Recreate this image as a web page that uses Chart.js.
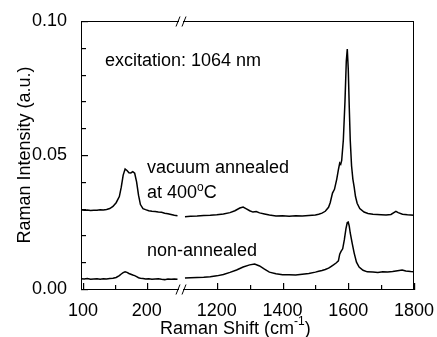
<!DOCTYPE html>
<html lang="en">
<head>
    <meta charset="UTF-8">
    <title>Raman spectra</title>
    <script src="https://cdn.jsdelivr.net/npm/chart.js"></script>
    <style>
        body {
            margin: 0;
            padding: 0;
            background: #fff;
        }
        canvas {
            display: block;
        }
    </style>
</head>
<body>
    <canvas id="ramanChart" width="437" height="337"></canvas>

    <script>
        // low shift window (left part of the broken axis)
        const lowShift = [97, 102, 107, 112, 117, 122, 127, 132, 137, 142, 147, 152, 157, 160, 163, 166, 169, 172, 175, 178,
            181, 184, 187, 190, 194, 198, 203, 208, 213, 218, 223, 228, 233, 238, 243, 248];
        const annealedLow = [0.0296, 0.0294, 0.0295, 0.0293, 0.0294, 0.0294, 0.0296, 0.0295, 0.0297, 0.0300, 0.0308, 0.0322,
            0.0345, 0.0380, 0.0425, 0.0448, 0.0442, 0.0434, 0.0433, 0.0438, 0.0432, 0.0400, 0.0350, 0.0315, 0.0300, 0.0296,
            0.0292, 0.0290, 0.0289, 0.0287, 0.0286, 0.0283, 0.0281, 0.0278, 0.0275, 0.0273];
        const plainLow = [0.0038, 0.0037, 0.0039, 0.0036, 0.0037, 0.0038, 0.0036, 0.0038, 0.0037, 0.0039, 0.0040, 0.0043,
            0.0050, 0.0056, 0.0061, 0.0064, 0.0062, 0.0058, 0.0055, 0.0052, 0.0050, 0.0046, 0.0042, 0.0040, 0.0039, 0.0037,
            0.0038, 0.0036, 0.0037, 0.0038, 0.0036, 0.0035, 0.0037, 0.0036, 0.0037, 0.0036];

        // high shift window (right part)
        const annealedHighShift = [1103, 1120, 1140, 1160, 1180, 1200, 1220, 1240, 1255, 1270, 1280, 1290, 1300, 1310, 1320,
            1330, 1345, 1360, 1380, 1400, 1420, 1440, 1460, 1480, 1500, 1510, 1520, 1530, 1540, 1545, 1552, 1558, 1565, 1570,
            1574, 1577, 1580, 1585, 1590, 1594, 1597, 1600, 1603, 1606, 1610, 1614, 1618, 1622, 1627, 1635, 1648, 1660, 1675,
            1688, 1700, 1715, 1730, 1740, 1745, 1752, 1765, 1780, 1790, 1800];
        const annealedHigh = [0.0270, 0.0271, 0.0272, 0.0274, 0.0275, 0.0277, 0.0280, 0.0285, 0.0292, 0.0302, 0.0306, 0.0299,
            0.0292, 0.0287, 0.0289, 0.0284, 0.0280, 0.0276, 0.0272, 0.0273, 0.0271, 0.0273, 0.0272, 0.0274, 0.0276, 0.0279,
            0.0283, 0.0290, 0.0305, 0.0322, 0.0358, 0.0372, 0.0410, 0.0445, 0.0470, 0.0465, 0.0480, 0.0556, 0.0700, 0.0850,
            0.0895, 0.0820, 0.0680, 0.0556, 0.0460, 0.0410, 0.0380, 0.0345, 0.0320, 0.0300, 0.0287, 0.0282, 0.0279, 0.0278,
            0.0277, 0.0276, 0.0278, 0.0286, 0.0290, 0.0285, 0.0279, 0.0277, 0.0276, 0.0275];
        const plainHighShift = [1103, 1120, 1140, 1160, 1180, 1200, 1220, 1240, 1260, 1280, 1300, 1315, 1330, 1345, 1360, 1380,
            1400, 1420, 1440, 1460, 1480, 1500, 1510, 1520, 1530, 1540, 1545, 1555, 1563, 1570, 1574, 1578, 1583, 1588, 1593,
            1597, 1600, 1603, 1606, 1612, 1618, 1625, 1633, 1645, 1658, 1675, 1690, 1705, 1720, 1735, 1750, 1764, 1775, 1790, 1800];
        const plainHigh = [0.0041, 0.0042, 0.0043, 0.0044, 0.0046, 0.0049, 0.0054, 0.0062, 0.0071, 0.0082, 0.0090, 0.0093,
            0.0086, 0.0074, 0.0063, 0.0057, 0.0053, 0.0053, 0.0052, 0.0055, 0.0058, 0.0063, 0.0066, 0.0069, 0.0073, 0.0078,
            0.0082, 0.0090, 0.0097, 0.0105, 0.0130, 0.0140, 0.0150, 0.0183, 0.0225, 0.0248, 0.0250, 0.0235, 0.0209, 0.0170,
            0.0134, 0.0100, 0.0082, 0.0070, 0.0064, 0.0063, 0.0062, 0.0064, 0.0063, 0.0065, 0.0068, 0.0071, 0.0067, 0.0065, 0.0064];

        // tick labels and minor tick marks
        const lowTicks = [100, 200];
        const lowMinor = [150];
        const highTicks = [1200, 1400, 1600, 1800];
        const highMinor = [1300, 1500, 1700];
        const yTicks = [0, 0.05, 0.1];
        const yMinor = [0.01, 0.02, 0.03, 0.04, 0.06, 0.07, 0.08, 0.09];

        const FONT = 'Arial, "Liberation Sans", sans-serif';

        function pairs(xs, ys) {
            return xs.map((x, i) => ({ x: x, y: ys[i] }));
        }

        function lineSet(xs, ys, axis) {
            return {
                data: pairs(xs, ys),
                xAxisID: axis,
                yAxisID: 'y',
                borderColor: '#000',
                borderWidth: 1.5,
                pointRadius: 0,
                fill: false,
                tension: 0
            };
        }

        function useTicks(values) {
            return scale => { scale.ticks = values.map(v => ({ value: v })); };
        }

        // frame, inward ticks, axis break and text labels
        const decorations = {
            id: 'decorations',
            afterDraw(chart) {
                const ctx = chart.ctx;
                const area = chart.chartArea;
                const yScale = chart.scales.y;
                const lo = chart.scales.xLow;
                const hi = chart.scales.xHigh;
                const breakX = Math.round(lo.right);
                const left = Math.round(area.left);
                const top = Math.round(area.top);
                const right = Math.round(area.right);
                const bottom = Math.round(area.bottom);

                ctx.save();
                ctx.strokeStyle = '#000';
                ctx.fillStyle = '#000';
                ctx.lineWidth = 1;
                ctx.strokeRect(left + 0.5, top + 0.5, right - left - 1, bottom - top);

                // inward tick marks
                const yMark = (v, len) => {
                    const py = Math.round(yScale.getPixelForValue(v));
                    ctx.fillRect(left, py, len, 1.2);
                };
                yTicks.forEach(v => yMark(v, 7));
                yMinor.forEach(v => yMark(v, 5));
                const xMark = (sc, v, len) => {
                    const px = Math.round(sc.getPixelForValue(v));
                    ctx.fillRect(px, bottom - len, 1.2, len + 1);
                };
                lowTicks.forEach(v => xMark(lo, v, 6));
                lowMinor.forEach(v => xMark(lo, v, 4));
                highTicks.forEach(v => xMark(hi, v, 6));
                highMinor.forEach(v => xMark(hi, v, 4));

                // axis break marks
                [top + 0.5, bottom + 0.5].forEach(yy => {
                    ctx.fillStyle = '#fff';
                    ctx.fillRect(breakX - 2, yy - 2, 4, 4);
                    ctx.beginPath();
                    ctx.moveTo(breakX - 5, yy + 5);
                    ctx.lineTo(breakX - 1, yy - 5);
                    ctx.moveTo(breakX + 1, yy + 5);
                    ctx.lineTo(breakX + 5, yy - 5);
                    ctx.stroke();
                });

                ctx.fillStyle = '#000';
                ctx.textBaseline = 'alphabetic';
                ctx.textAlign = 'left';
                ctx.font = '18px ' + FONT;
                ctx.fillText('excitation: 1064 nm', 105, 66);
                ctx.fillText('vacuum annealed', 147, 173);
                ctx.fillText('non-annealed', 147, 256);

                let x = 147;
                ctx.fillText('at 400', x, 198);
                x += ctx.measureText('at 400').width;
                ctx.font = '12px ' + FONT;
                ctx.fillText('o', x, 191);
                x += ctx.measureText('o').width;
                ctx.font = '18px ' + FONT;
                ctx.fillText('C', x, 198);

                x = 160;
                ctx.fillText('Raman Shift (cm', x, 334);
                x += ctx.measureText('Raman Shift (cm').width;
                ctx.font = '12px ' + FONT;
                ctx.fillText('-1', x, 325);
                x += ctx.measureText('-1').width;
                ctx.font = '18px ' + FONT;
                ctx.fillText(')', x, 334);
                ctx.restore();
            }
        };

        const tickFont = { family: FONT, size: 18 };

        new Chart(document.getElementById('ramanChart').getContext('2d'), {
            type: 'line',
            data: {
                datasets: [
                    lineSet(lowShift, annealedLow, 'xLow'),
                    lineSet(annealedHighShift, annealedHigh, 'xHigh'),
                    lineSet(lowShift, plainLow, 'xLow'),
                    lineSet(plainHighShift, plainHigh, 'xHigh')
                ]
            },
            options: {
                responsive: false,
                animation: false,
                layout: { padding: { top: 21, right: 22, left: 0, bottom: 0 } },
                plugins: {
                    legend: { display: false },
                    tooltip: { enabled: false }
                },
                scales: {
                    xLow: {
                        type: 'linear',
                        position: 'bottom',
                        stack: 'shift',
                        stackWeight: 100,
                        min: 97,
                        max: 253,
                        grid: { display: false },
                        border: { display: false },
                        afterBuildTicks: useTicks(lowTicks),
                        ticks: {
                            autoSkip: false,
                            maxRotation: 0,
                            padding: 3,
                            color: '#000',
                            font: tickFont,
                            callback: v => String(v)
                        },
                        afterFit: s => { s.height = 48; }
                    },
                    xHigh: {
                        type: 'linear',
                        position: 'bottom',
                        stack: 'shift',
                        stackWeight: 234,
                        min: 1090,
                        max: 1800,
                        grid: { display: false },
                        border: { display: false },
                        afterBuildTicks: useTicks(highTicks),
                        ticks: {
                            autoSkip: false,
                            maxRotation: 0,
                            padding: 3,
                            color: '#000',
                            font: tickFont,
                            callback: v => String(v)
                        },
                        afterFit: s => { s.height = 48; }
                    },
                    y: {
                        type: 'linear',
                        position: 'left',
                        min: 0,
                        max: 0.1,
                        grid: { display: false },
                        border: { display: false },
                        afterBuildTicks: useTicks(yTicks),
                        ticks: {
                            autoSkip: false,
                            padding: 6,
                            color: '#000',
                            font: tickFont,
                            callback: v => v.toFixed(2)
                        },
                        title: {
                            display: true,
                            text: 'Raman Intensity (a.u.)',
                            color: '#000',
                            font: { family: FONT, size: 18 },
                            padding: { top: 14, bottom: 0 }
                        },
                        afterFit: s => { s.width = 81; }
                    }
                }
            },
            plugins: [decorations]
        });
    </script>
</body>
</html>
